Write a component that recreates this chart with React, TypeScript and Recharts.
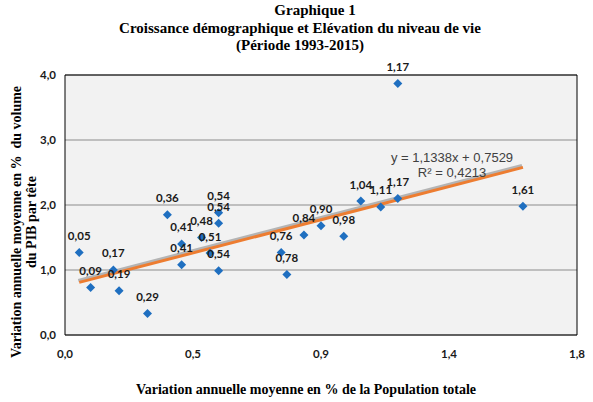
import React from 'react'
import { ScatterChart, Scatter, XAxis, YAxis, CartesianGrid, ReferenceArea, ReferenceLine, LabelList } from 'recharts'

// x = variation annuelle moyenne de la population (%), y = variation du PIB par tête (%)
const popGrowth = [0.05, 0.09, 0.17, 0.19, 0.29, 0.36, 0.41, 0.41, 0.48, 0.51, 0.54, 0.54, 0.54, 0.76, 0.78, 0.84, 0.9, 0.98, 1.04, 1.11, 1.17, 1.17, 1.61]
const gdpGrowth = [1.27, 0.73, 1.0, 0.68, 0.33, 1.85, 1.4, 1.08, 1.5, 1.26, 1.88, 1.72, 0.99, 1.27, 0.93, 1.54, 1.68, 1.52, 2.06, 1.97, 3.87, 2.1, 1.98]

const xTicks = [0, 0.45, 0.9, 1.35, 1.8]
const xTickLabels = ['0,0', '0,5', '0,9', '1,4', '1,8']
const yTicks = [0, 1, 2, 3, 4]

// courbe de tendance linéaire (Excel)
const trendSlope = 1.1338
const trendIntercept = 0.7529
const trendR2 = 0.4213

const fmt = (v: number, d: number) => v.toFixed(d).replace('.', ',')

const data = popGrowth.map((x, i) => ({ x, y: gdpGrowth[i], label: fmt(x, 2) }))

const xMin = Math.min(...popGrowth)
const xMax = Math.max(...popGrowth)

const Diamond = (props: any) => {
  const { cx, cy } = props
  const r = 4.5
  return <path d={`M${cx},${cy - r}L${cx + r},${cy}L${cx},${cy + r}L${cx - r},${cy}Z`} fill="#1f6fc0" />
}

const TrendShape = (props: any) => {
  const { x1, y1, x2, y2 } = props
  return (
    <g>
      <line x1={x1 - 1} y1={y1 - 2} x2={x2 - 1} y2={y2 - 2} stroke="#b4b4b4" strokeWidth={3} />
      <line x1={x1} y1={y1} x2={x2} y2={y2} stroke="#ed7d31" strokeWidth={3} />
    </g>
  )
}

const PointLabel = (props: any) => {
  const { x, y, width, value } = props
  return (
    <text x={x + width / 2} y={y - 8} textAnchor="middle" fontFamily="Lato" fontWeight="bold" fontSize={11.5} fill="#1a1a1a">
      {value}
    </text>
  )
}

const serif = '"Liberation Serif", "Times New Roman", serif'
const tickStyle = { fontFamily: 'Lato', fontWeight: 'bold', fontSize: 11.5, fill: '#1a1a1a' }

export default function App() {
  return (
    <div style={{ position: 'relative', width: 593, height: 402, background: '#fff' }}>
      <style>{`body{margin:0}`}</style>
      <div style={{ position: 'absolute', top: 2, left: 0, width: 600, textAlign: 'center', fontFamily: serif, fontWeight: 'bold', fontSize: 15, lineHeight: '17.5px' }}>
        <div style={{ paddingLeft: 30 }}>Graphique 1</div>
        <div>Croissance démographique et Elévation du niveau de vie</div>
        <div>(Période 1993-2015)</div>
      </div>
      <div
        style={{
          position: 'absolute', left: 24, top: 222, width: 320, transform: 'translate(-50%, -50%) rotate(-90deg)',
          textAlign: 'center', fontFamily: serif, fontWeight: 'bold', fontSize: 14, lineHeight: '15px',
        }}
      >
        <div>Variation annuelle moyenne en %&nbsp; du volume</div>
        <div>du PIB par tête</div>
      </div>
      <div style={{ position: 'absolute', left: 0, width: 612, top: 382, textAlign: 'center', fontFamily: serif, fontWeight: 'bold', fontSize: 14 }}>
        Variation annuelle moyenne en % de la Population totale
      </div>
      <div style={{ position: 'absolute', left: 0, top: 0 }}>
        <ScatterChart width={593} height={402} margin={{ top: 75, right: 16, bottom: 37, left: 0 }}>
          <CartesianGrid vertical={false} stroke="#8c8c8c" fill="#f2f2f2" horizontalValues={yTicks} />
          <XAxis
            type="number"
            dataKey="x"
            domain={[0, 1.8]}
            ticks={xTicks}
            height={30}
            axisLine={false}
            tickLine={false}
            tickMargin={9}
            tickFormatter={(v: number) => xTickLabels[xTicks.indexOf(v)]}
            tick={tickStyle}
            interval={0}
          />
          <YAxis
            type="number"
            dataKey="y"
            domain={[0, 4]}
            ticks={yTicks}
            width={65}
            axisLine={false}
            tickLine={false}
            tickSize={0}
            tickMargin={9}
            tickFormatter={(v: number) => fmt(v, 1)}
            tick={tickStyle}
            interval={0}
          />
          <ReferenceArea x1={0} x2={1.8} y1={0} y2={4} fill="none" stroke="#000" strokeWidth={1} fillOpacity={0} />
          <Scatter data={data} shape={<Diamond />} isAnimationActive={false}>
            <LabelList dataKey="label" content={<PointLabel />} />
          </Scatter>
          <ReferenceLine
            segment={[
              { x: xMin, y: trendSlope * xMin + trendIntercept },
              { x: xMax, y: trendSlope * xMax + trendIntercept },
            ]}
            shape={<TrendShape />}
            ifOverflow="visible"
          />
        </ScatterChart>
      </div>
      <div style={{ position: 'absolute', left: 372, width: 160, top: 150, textAlign: 'center', fontFamily: '"Liberation Sans", Arial', fontSize: 13, lineHeight: '15px', color: '#404040' }}>
        <div>y = {fmt(trendSlope, 4)}x + {fmt(trendIntercept, 4)}</div>
        <div>R² = {fmt(trendR2, 4)}</div>
      </div>
    </div>
  )
}
